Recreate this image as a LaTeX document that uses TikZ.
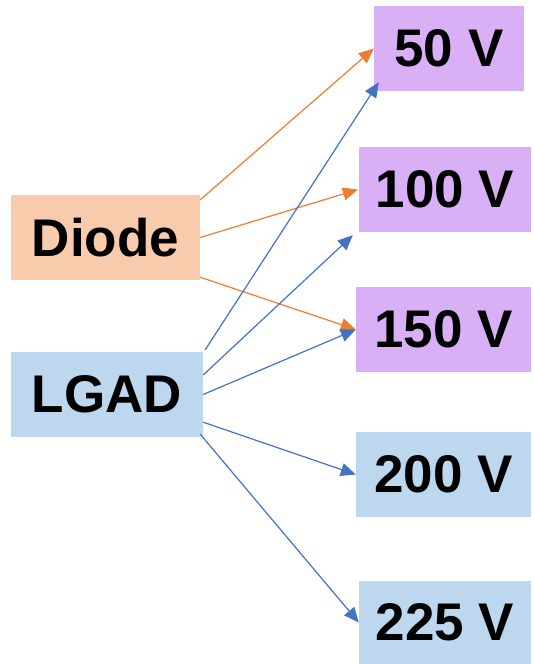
\documentclass[tikz,border=0pt]{standalone}
\usepackage{fontspec}
\setmainfont{Liberation Sans}
\usetikzlibrary{arrows.meta}
\definecolor{boxorange}{HTML}{F8CBAD}
\definecolor{boxblue}{HTML}{BDD7EE}
\definecolor{boxpurple}{HTML}{D9B0F5}
\definecolor{lineorange}{HTML}{ED7D31}
\definecolor{lineblue}{HTML}{4472C4}
\tikzset{
  box/.style={draw=none, rectangle, inner sep=0pt, minimum height=85pt,
    font=\fontsize{53}{60}\selectfont\bfseries, text=black},
  oarrow/.style={draw=lineorange, line width=1.2pt, -{Triangle[length=15pt,width=13pt]}},
  barrow/.style={draw=lineblue, line width=1.2pt, -{Triangle[length=15pt,width=13pt]}}
}
\begin{document}
\begin{tikzpicture}[x=1pt,y=-1pt]
\useasboundingbox (0,0) rectangle (533,664);
\node[box, fill=boxorange, minimum width=189pt] (diode) at (105.5,237.5) {Diode};
\node[box, fill=boxblue, minimum width=192pt] (lgad) at (107,394.5) {LGAD};
\node[box, fill=boxpurple, minimum width=150pt] (v50) at (449,48.5) {50 V};
\node[box, fill=boxpurple, minimum width=172pt] (v100) at (445,189.5) {100 V};
\node[box, fill=boxpurple, minimum width=175pt] (v150) at (443.5,329.5) {150 V};
\node[box, fill=boxblue, minimum width=175pt] (v200) at (443.5,474.5) {200 V};
\node[box, fill=boxblue, minimum width=172pt, minimum height=83pt] (v225) at (445,622.5) {225 V};
% orange connectors
\draw[oarrow] ([yshift=-5pt]diode.north east) -- (v50.west);
\draw[oarrow] (diode.east) -- ([xshift=-1pt]v100.west);
\draw[oarrow] ([yshift=3pt]diode.south east) -- (v150.west);
% blue connectors
\draw[barrow] ([xshift=2pt,yshift=2pt]lgad.north east) -- ([xshift=5pt,yshift=9pt]v50.south west);
\draw[barrow] ([yshift=19.5pt]lgad.east) -- ([xshift=-6pt,yshift=-3pt]v100.south west);
\draw[barrow] (lgad.east) -- (v150.west);
\draw[barrow] ([yshift=15pt]lgad.south east) -- (v200.west);
\draw[barrow] ([xshift=-3pt,yshift=3pt]lgad.south east) -- (v225.west);
\end{tikzpicture}
\end{document}
